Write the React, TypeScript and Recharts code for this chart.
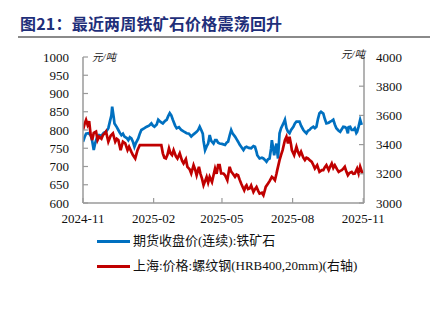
import React from "react";
import { LineChart, Line, XAxis, YAxis } from "recharts";

// 铁矿石期货收盘价(连续), 元/吨, 左轴
const oreDates = [
  "2024-11-01", "2024-11-03", "2024-11-05", "2024-11-08", "2024-11-11", "2024-11-13", "2024-11-15",
  "2024-11-17", "2024-11-19", "2024-11-22", "2024-11-25", "2024-11-28", "2024-12-01", "2024-12-04",
  "2024-12-06", "2024-12-08", "2024-12-09", "2024-12-11", "2024-12-12", "2024-12-15", "2024-12-17",
  "2024-12-19", "2024-12-21", "2024-12-23", "2024-12-25", "2024-12-28", "2024-12-30", "2025-01-01",
  "2025-01-03", "2025-01-05", "2025-01-07", "2025-01-09", "2025-01-12", "2025-01-14", "2025-01-16",
  "2025-01-20", "2025-01-23", "2025-01-26", "2025-01-29", "2025-01-31", "2025-02-02", "2025-02-05",
  "2025-02-07", "2025-02-10", "2025-02-13", "2025-02-16", "2025-02-18", "2025-02-20", "2025-02-22",
  "2025-02-24", "2025-02-26", "2025-03-01", "2025-03-03", "2025-03-06", "2025-03-09", "2025-03-12",
  "2025-03-16", "2025-03-19", "2025-03-22", "2025-03-25", "2025-03-29", "2025-03-31", "2025-04-02",
  "2025-04-04", "2025-04-06", "2025-04-07", "2025-04-09", "2025-04-11", "2025-04-13", "2025-04-15",
  "2025-04-17", "2025-04-20", "2025-04-22", "2025-04-24", "2025-04-26", "2025-04-28", "2025-05-01",
  "2025-05-05", "2025-05-07", "2025-05-09", "2025-05-11", "2025-05-13", "2025-05-15", "2025-05-18",
  "2025-05-20", "2025-05-22", "2025-05-24", "2025-05-26", "2025-05-29", "2025-05-31", "2025-06-02",
  "2025-06-05", "2025-06-08", "2025-06-11", "2025-06-13", "2025-06-15", "2025-06-16", "2025-06-19",
  "2025-06-22", "2025-06-24", "2025-06-26", "2025-06-28", "2025-06-30", "2025-07-02", "2025-07-04",
  "2025-07-05", "2025-07-07", "2025-07-08", "2025-07-10", "2025-07-11", "2025-07-12", "2025-07-13",
  "2025-07-15", "2025-07-17", "2025-07-20", "2025-07-22", "2025-07-24", "2025-07-26", "2025-07-28",
  "2025-07-30", "2025-08-02", "2025-08-04", "2025-08-06", "2025-08-10", "2025-08-12", "2025-08-15",
  "2025-08-17", "2025-08-19", "2025-08-21", "2025-08-23", "2025-08-25", "2025-08-28", "2025-08-30",
  "2025-09-01", "2025-09-03", "2025-09-05", "2025-09-07", "2025-09-10", "2025-09-12", "2025-09-14",
  "2025-09-17", "2025-09-19", "2025-09-21", "2025-09-23", "2025-09-25", "2025-09-27", "2025-09-30",
  "2025-10-02", "2025-10-04", "2025-10-06", "2025-10-08", "2025-10-10", "2025-10-12", "2025-10-13",
  "2025-10-15", "2025-10-17", "2025-10-19", "2025-10-21", "2025-10-23", "2025-10-24", "2025-10-26",
  "2025-10-28", "2025-10-30",
];
const orePrices = [
  768, 780, 790, 791, 786, 770, 745,
  765, 778, 786, 784, 792, 795, 805,
  823, 840, 864, 835, 818, 808, 800,
  792, 786, 790, 782, 778, 772, 780,
  777, 768, 754, 765, 777, 790, 800,
  805, 809, 812, 818, 812, 809, 815,
  828, 822, 818, 825, 828, 838, 846,
  840, 828, 812, 805, 808, 800, 796,
  791, 790, 782, 788, 795, 800, 809,
  800, 790, 770, 745, 755, 763, 786,
  770, 763, 772, 772, 765, 763, 762,
  759, 765, 768, 785, 800, 790, 782,
  775, 768, 760, 754, 745, 752, 754,
  751, 750, 756, 754, 740, 731, 722,
  724, 722, 718, 713, 720, 722, 750,
  772, 745, 731, 755, 763, 740, 722,
  791, 805, 818, 828, 805, 795, 791,
  800, 809, 818, 823, 823, 812, 800,
  795, 791, 798, 800, 805, 809, 805,
  809, 830, 846, 850, 845, 830, 818,
  820, 823, 825, 828, 815, 805, 798,
  795, 802, 809, 808, 805, 791, 808,
  809, 800, 800, 805, 792, 795, 810,
  828, 814,
];

// 上海螺纹钢价格 HRB400 20mm, 元/吨, 右轴
const rebarDates = [
  "2024-11-01", "2024-11-03", "2024-11-05", "2024-11-07", "2024-11-09", "2024-11-11", "2024-11-13",
  "2024-11-15", "2024-11-18", "2024-11-20", "2024-11-22", "2024-11-25", "2024-11-27", "2024-11-29",
  "2024-12-01", "2024-12-04", "2024-12-07", "2024-12-10", "2024-12-13", "2024-12-15", "2024-12-17",
  "2024-12-20", "2024-12-23", "2024-12-26", "2024-12-29", "2024-12-31", "2025-01-03", "2025-01-05",
  "2025-01-08", "2025-01-11", "2025-01-14", "2025-01-20", "2025-01-30", "2025-02-09", "2025-02-11",
  "2025-02-13", "2025-02-15", "2025-02-17", "2025-02-19", "2025-02-21", "2025-02-23", "2025-02-25",
  "2025-02-27", "2025-03-02", "2025-03-04", "2025-03-07", "2025-03-10", "2025-03-12", "2025-03-15",
  "2025-03-17", "2025-03-20", "2025-03-22", "2025-03-25", "2025-03-27", "2025-03-29", "2025-04-01",
  "2025-04-03", "2025-04-05", "2025-04-07", "2025-04-09", "2025-04-11", "2025-04-13", "2025-04-15",
  "2025-04-18", "2025-04-20", "2025-04-22", "2025-04-24", "2025-04-26", "2025-04-28", "2025-04-30",
  "2025-05-03", "2025-05-05", "2025-05-08", "2025-05-10", "2025-05-11", "2025-05-13", "2025-05-15",
  "2025-05-18", "2025-05-20", "2025-05-22", "2025-05-24", "2025-05-26", "2025-05-28", "2025-05-30",
  "2025-06-01", "2025-06-02", "2025-06-04", "2025-06-06", "2025-06-08", "2025-06-11", "2025-06-13",
  "2025-06-15", "2025-06-17", "2025-06-19", "2025-06-22", "2025-06-24", "2025-06-26", "2025-06-27",
  "2025-06-30", "2025-07-02", "2025-07-05", "2025-07-07", "2025-07-09", "2025-07-11", "2025-07-12",
  "2025-07-15", "2025-07-17", "2025-07-19", "2025-07-22", "2025-07-24", "2025-07-26", "2025-07-28",
  "2025-07-30", "2025-07-31", "2025-08-03", "2025-08-06", "2025-08-08", "2025-08-10", "2025-08-12",
  "2025-08-15", "2025-08-17", "2025-08-19", "2025-08-21", "2025-08-24", "2025-08-26", "2025-08-28",
  "2025-08-30", "2025-09-02", "2025-09-05", "2025-09-08", "2025-09-10", "2025-09-12", "2025-09-14",
  "2025-09-17", "2025-09-19", "2025-09-21", "2025-09-23", "2025-09-25", "2025-09-28", "2025-09-30",
  "2025-10-02", "2025-10-04", "2025-10-06", "2025-10-08", "2025-10-10", "2025-10-12", "2025-10-14",
  "2025-10-17", "2025-10-19", "2025-10-21", "2025-10-24", "2025-10-26", "2025-10-28", "2025-10-31",
];
const rebarPrices = [
  3500, 3540, 3569, 3534, 3560, 3466, 3431,
  3480, 3489, 3431, 3454, 3440, 3466, 3475,
  3489, 3420, 3460, 3477, 3420, 3440, 3431,
  3362, 3420, 3408, 3362, 3385, 3350, 3328,
  3305, 3362, 3397, 3397, 3397, 3397, 3397,
  3340, 3310, 3305, 3330, 3374, 3340, 3328,
  3362, 3320, 3305, 3340, 3290, 3271, 3300,
  3248, 3230, 3202, 3259, 3230, 3190, 3248,
  3200, 3167, 3122, 3150, 3179, 3140, 3179,
  3144, 3190, 3236, 3200, 3259, 3259, 3202,
  3202, 3190, 3156, 3220, 3248, 3215, 3202,
  3179, 3195, 3190, 3160, 3133, 3110, 3087,
  3115, 3122, 3095, 3099, 3120, 3076, 3095,
  3110, 3085, 3064, 3070, 3053, 3090, 3110,
  3133, 3150, 3179, 3170, 3156, 3200, 3225,
  3294, 3330, 3362, 3431, 3454, 3408, 3454,
  3400, 3362, 3328, 3385, 3350, 3328, 3351,
  3310, 3294, 3310, 3305, 3290, 3282, 3260,
  3236, 3259, 3213, 3225, 3225, 3245, 3259,
  3225, 3250, 3271, 3240, 3259, 3230, 3213,
  3220, 3225, 3235, 3248, 3215, 3190, 3205,
  3213, 3200, 3202, 3236, 3202, 3248, 3202,
];

const tickMonths = ["2024-11", "2025-02", "2025-05", "2025-08", "2025-11"];
const leftTicks = [600, 650, 700, 750, 800, 850, 900, 950, 1000];
const rightTicks = [3000, 3200, 3400, 3600, 3800, 4000];

const ORIGIN = Date.UTC(2024, 10, 1);
const toDay = (s: string) => {
  const [y, m, d] = s.split("-").map(Number);
  return Math.round((Date.UTC(y, m - 1, d || 1) - ORIGIN) / 86400000);
};

const oreData = oreDates.map((d, i) => ({ d: toDay(d), v: orePrices[i] }));
const rebarData = rebarDates.map((d, i) => ({ d: toDay(d), v: rebarPrices[i] }));
const xTicks = tickMonths.map((m) => toDay(m));

const AXIS = "#9a9a9a";
const FONT = "'Liberation Serif', 'Noto Sans CJK SC', serif";
const tickText: React.CSSProperties = { fontFamily: "Liberation Serif", fontSize: 13 };

const LeftTick = ({ x, y, payload }: any) => (
  <g>
    <line x1={x + 14} x2={x + 19} y1={y} y2={y} stroke={AXIS} strokeWidth={1.2} />
    <text x={x} y={y} dy="0.35em" textAnchor="end" style={tickText} fill="#111">
      {payload.value}
    </text>
  </g>
);

const RightTick = ({ x, y, payload }: any) => (
  <g>
    <line x1={x - 12} x2={x - 17} y1={y} y2={y} stroke={AXIS} strokeWidth={1.2} />
    <text x={x} y={y} dy="0.35em" textAnchor="start" style={tickText} fill="#111">
      {payload.value}
    </text>
  </g>
);

const BottomTick = ({ x, y, index }: any) => (
  <g>
    <line x1={x} x2={x} y1={y - 4} y2={y - 9} stroke={AXIS} strokeWidth={1.2} />
    <text x={x} y={y + 16} textAnchor="middle" style={tickText} fill="#111">
      {tickMonths[index] ?? ""}
    </text>
  </g>
);

const unitStyle: React.CSSProperties = {
  position: "absolute",
  fontSize: 10.5,
  fontFamily: FONT,
  fontStyle: "italic",
  color: "#222",
  lineHeight: "12px",
};

const legendText: React.CSSProperties = {
  position: "absolute",
  left: 133,
  fontSize: 13,
  fontFamily: FONT,
  color: "#111",
  lineHeight: "15px",
  whiteSpace: "nowrap",
};

export default function App() {
  return (
    <div style={{ position: "absolute", left: 0, top: 0, width: 440, height: 321, background: "#fff" }}>
      <div
        style={{
          position: "absolute",
          left: 20,
          top: 13,
          fontSize: 16,
          fontWeight: 700,
          letterSpacing: 0.2,
          fontFamily: "'Noto Sans CJK SC', sans-serif",
          color: "#1f2f7a",
          lineHeight: "21px",
          whiteSpace: "nowrap",
        }}
      >
        图21：最近两周铁矿石价格震荡回升
      </div>
      <div style={{ position: "absolute", left: 18, top: 36, width: 412, height: 2, background: "#8a8a8a" }} />

      <LineChart
        width={440}
        height={321}
        margin={{ top: 57, right: 16, bottom: 88, left: 23 }}
        style={{ position: "absolute", left: 0, top: 0 }}
      >
        <XAxis
          dataKey="d"
          type="number"
          domain={[0, 366]}
          ticks={xTicks}
          allowDataOverflow
          height={30}
          tickSize={0}
          tickMargin={4}
          tickLine={false}
          axisLine={{ stroke: AXIS, strokeWidth: 1.5 }}
          tick={<BottomTick />}
          interval={0}
        />
        <YAxis
          yAxisId="left"
          orientation="left"
          width={60}
          domain={[600, 1000]}
          ticks={leftTicks}
          allowDataOverflow
          tickSize={0}
          tickMargin={14}
          tickLine={false}
          axisLine={{ stroke: AXIS, strokeWidth: 1.5 }}
          tick={<LeftTick />}
          interval={0}
        />
        <YAxis
          yAxisId="right"
          orientation="right"
          width={60}
          domain={[3000, 4000]}
          ticks={rightTicks}
          allowDataOverflow
          tickSize={0}
          tickMargin={12}
          tickLine={false}
          axisLine={{ stroke: AXIS, strokeWidth: 1.5 }}
          tick={<RightTick />}
          interval={0}
        />
        <Line
          data={oreData}
          yAxisId="left"
          dataKey="v"
          stroke="#0070c0"
          strokeWidth={2.7}
          dot={false}
          isAnimationActive={false}
        />
        <Line
          data={rebarData}
          yAxisId="right"
          dataKey="v"
          stroke="#c00000"
          strokeWidth={2.7}
          dot={false}
          isAnimationActive={false}
        />
      </LineChart>

      <div style={{ ...unitStyle, left: 92, top: 52 }}>元/吨</div>
      <div style={{ ...unitStyle, left: 341, top: 49 }}>元/吨</div>

      <div style={{ position: "absolute", left: 97, top: 240, width: 33, height: 3, background: "#0070c0" }} />
      <div style={{ ...legendText, top: 233 }}>期货收盘价(连续):铁矿石</div>
      <div style={{ position: "absolute", left: 97, top: 265, width: 33, height: 3, background: "#c00000" }} />
      <div style={{ ...legendText, top: 258 }}>上海:价格:螺纹钢(HRB400,20mm)(右轴)</div>
    </div>
  );
}
